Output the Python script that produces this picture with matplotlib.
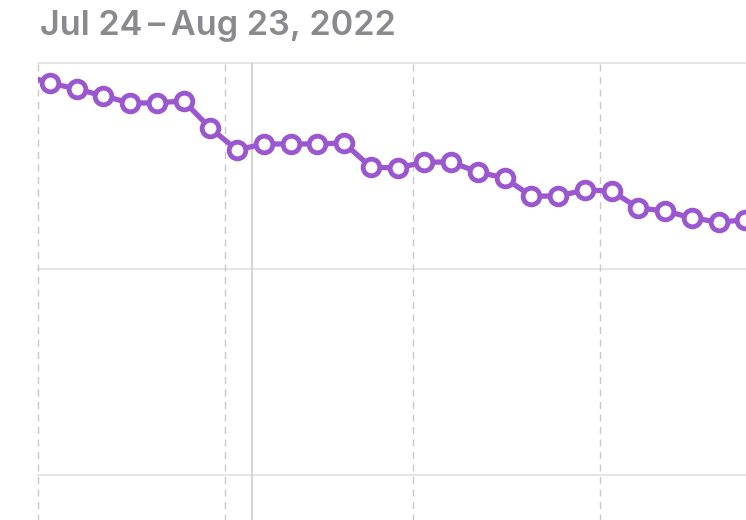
import matplotlib
matplotlib.use("Agg")
import matplotlib.pyplot as plt

# ---- data ----
title = "Jul 24\u2009\u2013\u2009Aug 23, 2022"
day_index = [-1, 0, 1, 2, 3, 4, 5, 6, 7, 8, 9, 10, 11, 12, 13,
             14, 15, 16, 17, 18, 19, 20, 21, 22, 23, 24, 25, 26]
values = [19.42, 19.03, 18.74, 18.40, 18.06, 18.06, 18.16, 16.84, 15.78,
          16.07, 16.07, 16.07, 16.12, 14.95, 14.90, 15.19, 15.19, 14.71,
          14.42, 13.54, 13.54, 13.83, 13.79, 12.96, 12.82, 12.48, 12.28, 12.38]
week_lines = [0, 7, 14, 21]
marker_day = 8
y_grid = [0, 10, 20]

# ---- style ----
PURPLE = "#9A57D0"
W, H = 746, 520
fig = plt.figure(figsize=(W / 100, H / 100), dpi=100)
fig.patch.set_facecolor("white")

left_px, top_px, right_px, bottom_px = 38, 63, 800, 540
ax = fig.add_axes([left_px / W, 1 - bottom_px / H,
                   (right_px - left_px) / W, (bottom_px - top_px) / H])
ax.set_facecolor("none")
px_per_unit_y = 20.6
px_per_day = 26.75
ax.set_ylim(20 - (bottom_px - top_px) / px_per_unit_y, 20)
ax.set_xlim(0, (right_px - left_px) / px_per_day)
for s in ax.spines.values():
    s.set_visible(False)
ax.set_xticks([])
ax.set_yticks([])

for yv in y_grid:
    ax.axhline(yv, color="#e3e3e6", lw=1.3, clip_on=False, zorder=1)
for d in week_lines:
    ax.axvline(d, color="#c8c8cc", lw=1.0, ls=(0, (5, 4)), zorder=1,
               clip_on=False)
ax.axvline(marker_day, color="#c9c9cc", lw=1.1, zorder=1)

x = [d + 0.44 for d in day_index]
ax.plot(x, values, color=PURPLE, lw=3.8, marker="o", ms=12.0,
        mfc="white", mec=PURPLE, mew=3.5, zorder=3, solid_joinstyle="round")

fig.text(40 / W, 1 - 35 / H, title, fontsize=24.7, fontweight="semibold",
         color="#8a8a8e", family=["Inter", "DejaVu Sans"],
         ha="left", va="baseline")

fig.savefig("out.png", dpi=100, facecolor="white")
